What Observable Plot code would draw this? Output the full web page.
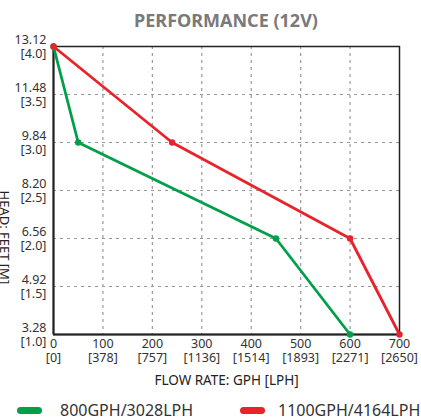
<!DOCTYPE html>
<html>
<head>
<meta charset="utf-8">
<script src="https://cdn.jsdelivr.net/npm/d3@7"></script>
<script src="https://cdn.jsdelivr.net/npm/@observablehq/plot@0.6"></script>
<style>
  body { margin: 0; background: #fff; }
  #wrap { position: relative; width: 421px; height: 420px; overflow: hidden; font-family: "Noto Sans", sans-serif; }
  #title { position: absolute; left: 53px; width: 346px; top: 9px; text-align: center; font-size: 18px; line-height: 22px; font-weight: 700; color: #7a7a7a; }
  .leg { position: absolute; top: 399px; height: 22px; display: flex; align-items: center; font-size: 16px; color: #333; }
  .pill { display: inline-block; width: 25px; height: 7px; border-radius: 4px; margin-right: 18px; }
</style>
</head>
<body>
<div id="wrap">
  <div id="chart"></div>
  <div id="title">PERFORMANCE (12V)</div>
  <div class="leg" style="left:17px"><span class="pill" id="p800"></span><span id="l800"></span></div>
  <div class="leg" style="left:240px"><span class="pill" id="p1100" style="margin-right:13px"></span><span id="l1100"></span></div>
</div>
<script>
// Tick values and labels
const gph = [0, 100, 200, 300, 400, 500, 600, 700];
const lph = [0, 378, 757, 1136, 1514, 1893, 2271, 2650];
const feet = [3.28, 4.92, 6.56, 8.20, 9.84, 11.48, 13.12];
const meters = ["1.0", "1.5", "2.0", "2.5", "3.0", "3.5", "4.0"];

// Series
const seriesNames = ["800GPH/3028LPH", "1100GPH/4164LPH"];
const seriesColors = ["#00a04b", "#e8232c"];
const flow800 = [0, 50, 450, 600];
const head800 = [13.12, 9.84, 6.56, 3.28];
const flow1100 = [0, 240, 600, 700];
const head1100 = [13.12, 9.84, 6.56, 3.28];

const d800 = flow800.map((f, i) => ({flow: f, head: head800[i]}));
const d1100 = flow1100.map((f, i) => ({flow: f, head: head1100[i]}));

document.getElementById("l800").textContent = seriesNames[0];
document.getElementById("l1100").textContent = seriesNames[1];
document.getElementById("p800").style.background = seriesColors[0];
document.getElementById("p1100").style.background = seriesColors[1];

const chart = Plot.plot({
  width: 421,
  height: 420,
  marginLeft: 53,
  marginRight: 22,
  marginTop: 46,
  marginBottom: 86,
  style: {fontFamily: "Noto Sans, sans-serif", fontSize: "12.5px", color: "#333", background: "transparent"},
  x: {domain: [0, 700]},
  y: {domain: [3.28, 13.12]},
  marks: [
    Plot.gridX(gph.slice(1, -1), {stroke: "#9a9a9a", strokeOpacity: 1, strokeWidth: 1.2, strokeDasharray: "3,4"}),
    Plot.gridY(feet.slice(1, -1), {stroke: "#9a9a9a", strokeOpacity: 1, strokeWidth: 1.2, strokeDasharray: "3,4"}),
    Plot.axisX(gph, {
      tickSize: 0, tickPadding: 3, lineHeight: 1.15, fill: "#333", label: null,
      tickFormat: (d) => `${d}\n[${lph[gph.indexOf(d)]}]`
    }),
    Plot.axisY(feet, {
      tickSize: 0, tickPadding: 7, lineHeight: 1.14, fill: "#333", label: null,
      tickFormat: (d) => `${d.toFixed(2)}\n[${meters[feet.indexOf(d)]}]`
    }),
    Plot.frame({stroke: "#222", strokeWidth: 1.5}),
    Plot.ruleX([0], {stroke: "#222", strokeWidth: 2}),
    Plot.ruleY([3.28], {stroke: "#222", strokeWidth: 2}),
    Plot.line(d800, {x: "flow", y: "head", stroke: seriesColors[0], strokeWidth: 2.8}),
    Plot.dot(d800, {x: "flow", y: "head", fill: seriesColors[0], r: 3.2}),
    Plot.line(d1100, {x: "flow", y: "head", stroke: seriesColors[1], strokeWidth: 2.8}),
    Plot.dot(d1100, {x: "flow", y: "head", fill: seriesColors[1], r: 3.2}),
    Plot.text(["FLOW RATE: GPH [LPH]"], {frameAnchor: "bottom", dy: 50, fontSize: 13.5, fill: "#222"}),
    Plot.text(["HEAD: FEET [M]"], {frameAnchor: "left", dx: -49, rotate: 90, fontSize: 13, fill: "#222"})
  ]
});
document.getElementById("chart").appendChild(chart);
</script>
</body>
</html>
